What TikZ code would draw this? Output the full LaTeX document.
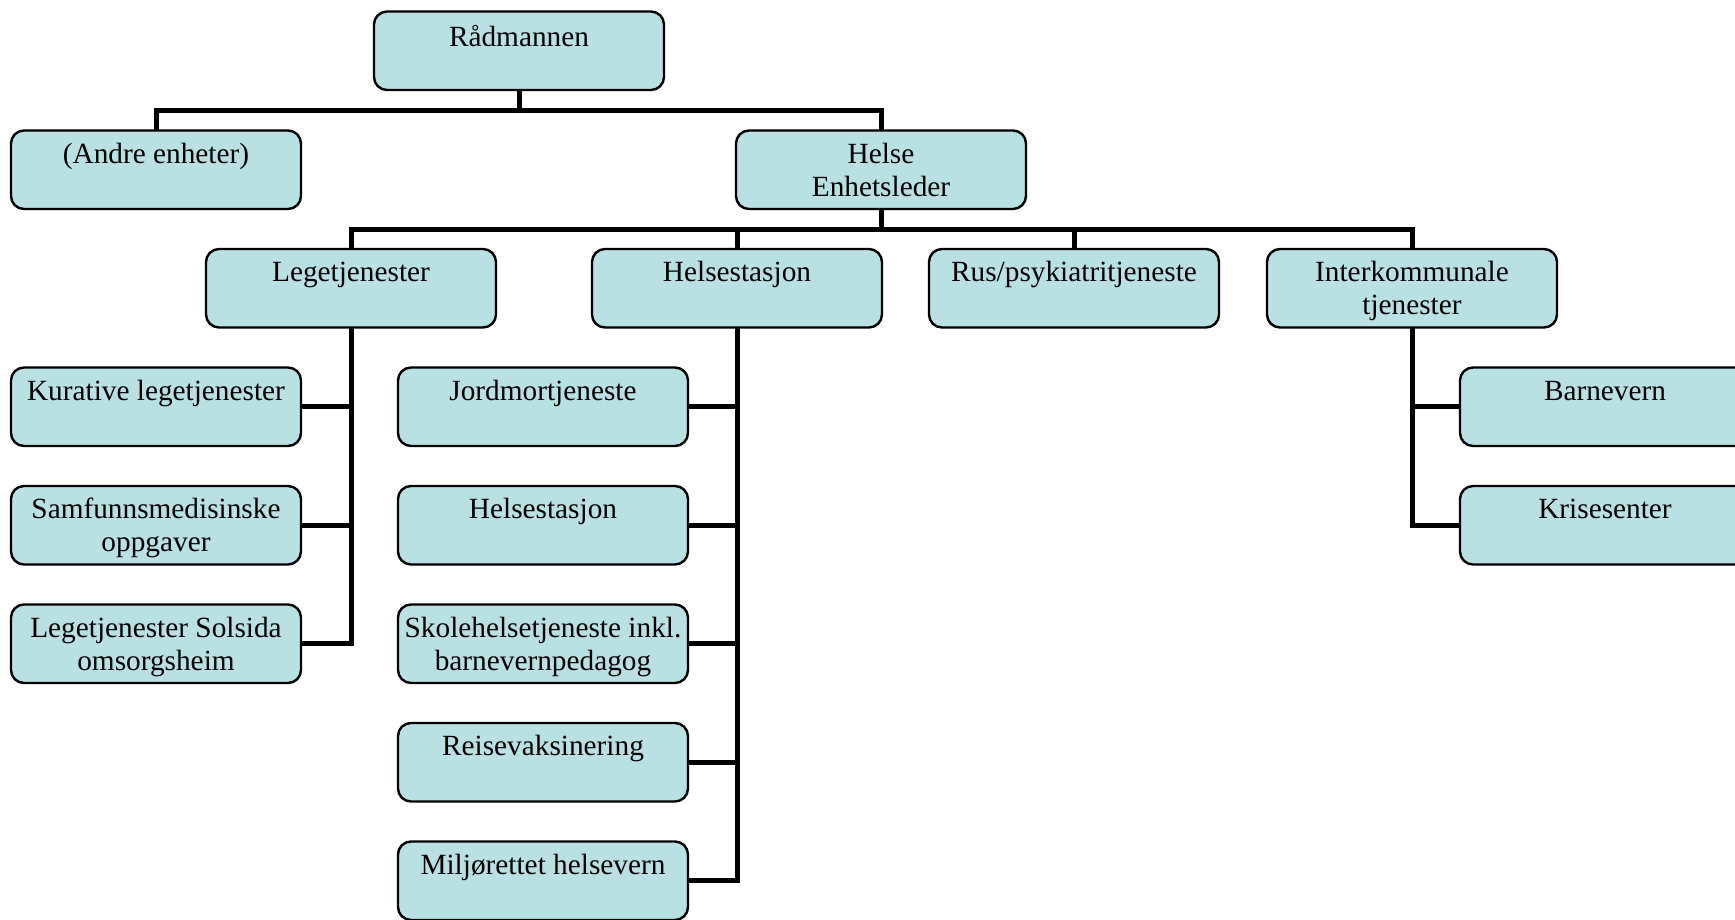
\documentclass[tikz,border=0pt]{standalone}
\usepackage{fontspec}
\setmainfont{Liberation Serif}
\usetikzlibrary{backgrounds}
\definecolor{boxfill}{RGB}{185,224,227}
\newlength\bxh \setlength\bxh{39.25pt}
\newlength\bxw \setlength\bxw{145pt}
\newcommand\bxtext[2][4.75pt]{\parbox[c][\bxh][t]{\bxw}{\vspace*{#1}\centering\strut #2\par}}
\tikzset{
  orgbox/.style={draw=black, line width=1.2pt, fill=boxfill, rounded corners=6.5pt,
    inner sep=0pt, outer sep=0pt, anchor=north west,
    font=\fontsize{14.65pt}{16.5pt}\selectfont},
  link/.style={line width=2.5pt, line join=miter, draw=black}
}
\begin{document}
\begin{tikzpicture}[x=0.5pt, y=-0.5pt]
\useasboundingbox (0,0) rectangle (1735,920);
\clip (0,0) rectangle (1735,920);
% level 0 / 1
\node[orgbox] (rad)   at (374,11.5)  {\bxtext[6.2pt]{Rådmannen}};
\node[orgbox] (andre) at (11,130.5)  {\bxtext{(Andre enheter)}};
\node[orgbox] (helse) at (736,130.5) {\bxtext{Helse\\Enhetsleder}};
% level 2
\node[orgbox] (lege) at (206,249)  {\bxtext{Legetjenester}};
\node[orgbox] (hst)  at (592,249)  {\bxtext{Helsestasjon}};
\node[orgbox] (rus)  at (929,249)  {\bxtext{Rus/psykiatritjeneste}};
\node[orgbox] (ikt)  at (1267,249) {\bxtext{Interkommunale\\tjenester}};
% Legetjenester children
\node[orgbox] (kur) at (11,367.5) {\bxtext{Kurative legetjenester}};
\node[orgbox] (sam) at (11,486)   {\bxtext{Samfunnsmedisinske\\oppgaver}};
\node[orgbox] (sol) at (11,604.5) {\bxtext{Legetjenester Solsida\\omsorgsheim}};
% Helsestasjon children
\node[orgbox] (jor) at (398,367.5) {\bxtext{Jordmortjeneste}};
\node[orgbox] (hs2) at (398,486)   {\bxtext{Helsestasjon}};
\node[orgbox] (sko) at (398,604.5) {\bxtext{Skolehelsetjeneste inkl.\\barnevernpedagog}};
\node[orgbox] (rei) at (398,723)   {\bxtext{Reisevaksinering}};
\node[orgbox] (mil) at (398,841.5) {\bxtext{Miljørettet helsevern}};
% Interkommunale children
\node[orgbox] (bar) at (1460,367.5) {\bxtext{Barnevern}};
\node[orgbox] (kri) at (1460,486)   {\bxtext{Krisesenter}};
\begin{scope}[on background layer]
  \draw[link] (rad.south) |- (andre.north |- 0,110.5) -- (andre.north);
  \draw[link] (rad.south) |- (helse.north |- 0,110.5) -- (helse.north);
  \foreach \c in {lege,hst,rus,ikt}
    \draw[link] (helse.south) |- (\c.north |- 0,229) -- (\c.north);
  \foreach \c in {kur,sam,sol}
    \draw[link] (lege.south) |- (\c.east);
  \foreach \c in {jor,hs2,sko,rei,mil}
    \draw[link] (hst.south) |- (\c.east);
  \foreach \c in {bar,kri}
    \draw[link] (ikt.south) |- (\c.west);
\end{scope}
\end{tikzpicture}
\end{document}
